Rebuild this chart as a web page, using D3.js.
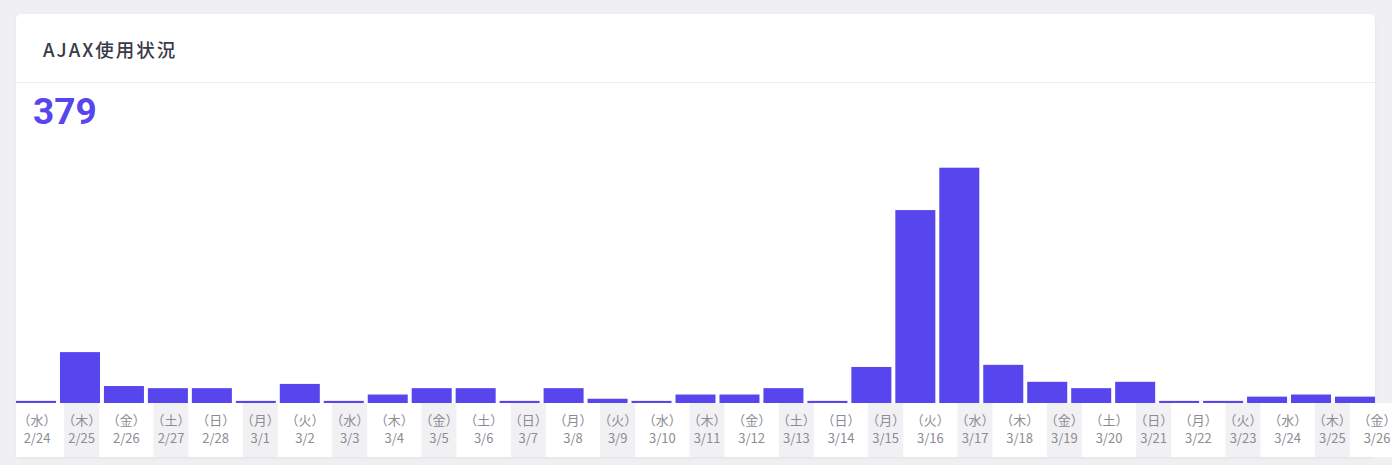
<!DOCTYPE html>
<html><head><meta charset="utf-8">
<script src="https://cdn.jsdelivr.net/npm/d3@7/dist/d3.min.js"></script>
<style>
html,body{margin:0;padding:0;background:#f0f0f3;}
svg{display:block;}
</style></head>
<body>
<svg id="chart" width="1392" height="465"></svg>
<script>
const title = "AJAX使用状況";
const total = "379";
const dates = ["2/24","2/25","2/26","2/27","2/28","3/1","3/2","3/3","3/4","3/5","3/6","3/7","3/8","3/9","3/10","3/11","3/12","3/13","3/14","3/15","3/16","3/17","3/18","3/19","3/20","3/21","3/22","3/23","3/24","3/25","3/26"];
const weekdays = ["水","木","金","土","日","月","火","水","木","金","土","日","月","火","水","木","金","土","日","月","火","水","木","金","土","日","月","火","水","木","金"];
const values = [1,24,8,7,7,1,9,1,4,7,7,1,7,2,1,4,4,7,1,17,91,111,18,10,7,10,1,1,3,4,3];

const svg = d3.select("#chart");
const W = 1392, H = 465;
const card = {x:16, y:14, w:1359, h:443};
const baseY = 403;

const defs = svg.append("defs");
const f = defs.append("filter").attr("id","sh").attr("x","-5%").attr("y","-5%").attr("width","110%").attr("height","110%");
f.append("feDropShadow").attr("dx",0).attr("dy",1).attr("stdDeviation",1.5).attr("flood-color","#000").attr("flood-opacity",0.06);

svg.append("rect").attr("x",card.x).attr("y",card.y).attr("width",card.w).attr("height",card.h)
  .attr("rx",5).attr("fill","#fff").attr("filter","url(#sh)");

svg.append("text").attr("x",43).attr("y",56.5).text(title)
  .attr("font-family","'Noto Sans CJK JP','Noto Sans',sans-serif").attr("font-size",18.5).attr("font-weight",500)
  .attr("letter-spacing",2).attr("fill","#3a3a48");

svg.append("line").attr("x1",card.x).attr("x2",card.x+card.w).attr("y1",82.5).attr("y2",82.5)
  .attr("stroke","#ececef").attr("stroke-width",1);

svg.append("text").attr("x",33).attr("y",124).text(total)
  .attr("font-family","Roboto, sans-serif").attr("font-size",37).attr("font-weight",700)
  .attr("fill","#5745ee");

// scales
const x = d3.scaleBand().domain(dates).range([16, 1375]).paddingInner(0.09).paddingOuter(0);
const xl = d3.scalePoint().domain(dates).range([37, 1377]);
const y = d3.scaleLinear().domain([0, d3.max(values)]).range([baseY, 167.7]);

// label strip
svg.append("rect").attr("x",16).attr("y",baseY).attr("width",W-16).attr("height",457-baseY).attr("fill","#fff");
svg.append("g").selectAll("rect").data(dates.filter((d,i)=>i%2===1)).join("rect")
  .attr("x",d=>xl(d)-17.5).attr("y",baseY).attr("width",35).attr("height",457-baseY)
  .attr("fill","#f1f1f4");

// bars
svg.append("g").selectAll("rect").data(values).join("rect")
  .attr("x",(d,i)=>x(dates[i])).attr("width",x.bandwidth())
  .attr("y",d=>y(d)).attr("height",d=>baseY-y(d))
  .attr("fill","#5745ee");

// x axis labels
const lab = svg.append("g").attr("font-family","'Noto Sans CJK JP','Noto Sans',sans-serif")
  .attr("font-size",13).attr("fill","#8c8c92").attr("text-anchor","middle");
lab.selectAll("text.wd").data(dates).join("text").attr("class","wd")
  .attr("x",d=>xl(d)).attr("y",424.5).text((d,i)=>"（"+weekdays[i]+"）");
lab.selectAll("text.dt").data(dates).join("text").attr("class","dt")
  .attr("x",d=>xl(d)).attr("y",442.5).text(d=>d);
</script>
</body></html>
